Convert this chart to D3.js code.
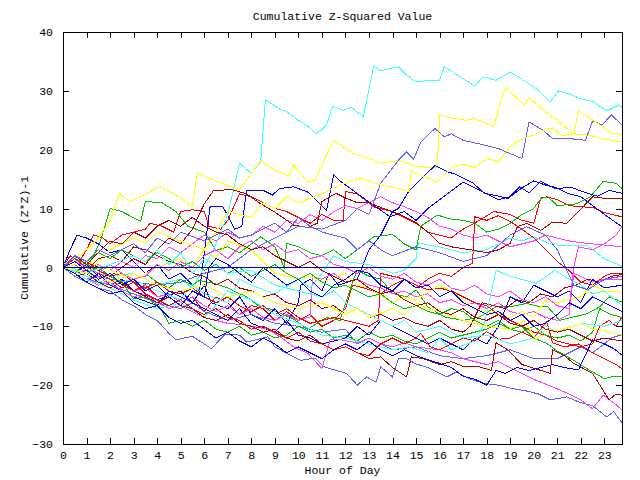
<!DOCTYPE html>
<html><head><meta charset="utf-8">
<script src="https://cdn.jsdelivr.net/npm/d3@7"></script>
<style>
html,body{margin:0;padding:0;background:#fff;}
text{font-family:"Liberation Mono","DejaVu Sans Mono",monospace;font-size:11.5px;fill:#000;}
</style></head>
<body>
<svg id="chart" width="640" height="480"></svg>
<script>
// ---- data (hour, cumulative z^2-1) ----
const xTicks = d3.range(0, 24);
const yTicks = [-30, -20, -10, 0, 10, 20, 30, 40];

const red1 = [[0,0],[0.3,2],[0.7,1],[1,3],[1.3,5.5],[1.7,5],[2,4],[2.5,5.5],[3,6],[3.5,6.5],[3.7,7.5],[4.2,7],[4.7,6],[5,9.5],[5.5,9.8],[6,9.5],[6.2,7],[6.7,6.5],[7,8],[7.5,12.5],[8,12],[8.5,11],[9,10],[9.5,9.5],[10,8.5],[10.5,7.5],[11,9],[11.5,8],[11.9,8],[12,12.9],[12.5,12.5],[13.2,10.3],[14,9.5],[14.5,8.5],[15,7.5],[15.5,6],[16,5.5],[16.5,5],[17,6.5],[17.7,8],[18.3,9.5],[19,9],[19.5,8],[20,7.5],[20.3,11.8],[20.55,12],[21,11.5],[21.5,10.5],[22,10.3],[22.5,10.2],[23,9.3],[23.75,8.6]];
const red2 = [[0,0],[0.5,-1],[1,-0.5],[1.5,-2],[2,-1],[2.5,-3],[3,-4],[3.5,-3],[4,-5],[4.5,-4.5],[5,-6],[5.5,-5],[6,-7.5],[6.5,-5],[7,-6],[7.5,-8],[8,-6.5],[8.5,-7],[9,-9],[9.5,-7.5],[10,-9],[10.5,-8],[11,-10],[11.5,-9],[12,-7],[12.3,-3],[12.8,-3.5],[13.5,-4.5],[14,-3],[14.5,-2],[15,-3.5],[15.5,-2],[16,-1],[16.5,-1.5],[17,0],[17.4,0.7],[17.5,8.6],[18,8],[18.5,8.8],[19,7.8],[19.5,6.5],[20,5],[20.5,3],[21,1],[21.5,-0.5],[22,-2.5],[22.5,-3],[23,-1.5],[23.3,-1],[23.75,-1]];
const red3 = [[0,0],[0.5,2],[1,1],[1.5,-0.5],[2,-1.5],[2.5,-1],[3,-2.5],[3.5,-3.5],[4,-2.5],[4.5,-4],[5,-4.5],[5.5,-3.5],[6,-5],[6.5,-6],[7,-5],[7.5,-6.5],[8,-7.5],[8.5,-6.5],[9,-8],[9.5,-7],[10,-8.5],[10.5,-9.5],[11,-9],[11.5,-8.5],[12,-9],[12.5,-9.5],[13,-10],[13.4,-9],[13.5,-1],[14,-1.5],[14.5,-2],[15,-3],[15.5,-3.8],[16,-3.5],[16.5,-4],[17,-5],[17.5,-6],[18,-6.5],[18.5,-8],[19,-9],[19.5,-10],[20,-11],[20.5,-11.5],[21,-12.5],[21.5,-13],[22,-13.5],[22.5,-13],[22.8,-10],[23.2,-9],[23.5,-10],[23.75,-8.4]];
const red4 = [[0,0],[0.5,1.5],[1,0],[1.5,-1],[2,-2],[2.5,-3.5],[3,-2.5],[3.5,-4.5],[4,-5.5],[4.5,-6.5],[5,-5.5],[5.5,-7],[6,-8],[6.5,-7],[7,-8.5],[7.5,-9],[8,-10.5],[8.5,-10],[9,-11],[9.5,-12],[10,-11],[10.5,-12.5],[11,-13],[11.5,-14],[12,-13.5],[12.5,-14.5],[13,-15],[13.5,-13],[14,-12],[14.5,-13],[15,-12],[15.2,-11.2],[15.6,-13.5],[16,-14],[16.5,-13],[17,-12],[17.5,-12.5],[18,-10.9],[18.5,-12.2],[19,-12],[19.5,-11],[20,-12],[20.55,-9.2],[20.8,-12.8],[21.3,-13.5],[21.9,-13],[22.5,-14.5],[23,-15.5],[23.5,-16.5],[23.75,-17.2]];

const green1 = [[0,0],[0.5,1],[1,0],[1.3,2],[1.6,4.6],[2,10],[2.5,9.5],[3.3,7.8],[3.5,11.2],[4.2,11],[4.8,9.5],[5.3,7],[6,6],[6.5,2.9],[7,3.5],[7.5,2.5],[8,4],[8.4,5.2],[9,3.5],[9.4,0],[9.5,4.1],[10,3.5],[10.5,2.5],[11,2],[11.5,3],[12,1.5],[12.5,3],[13.2,5.2],[14,5.6],[14.5,4],[15,3],[15.2,7],[15.9,8.9],[16.5,8.2],[17,8],[17.5,7.5],[18,6],[18.5,6.5],[19,7.5],[19.5,9],[20,10],[20.3,11.7],[20.6,12],[21,10.5],[21.8,10.8],[22.4,12],[22.95,14.6],[23.5,14.3],[23.75,13.4]];
const green2 = [[0,0],[0.5,1.5],[1,0.5],[1.5,-0.5],[2,0.5],[2.5,-1],[3,-2],[3.5,-1],[4,-2.5],[4.5,-3.5],[5,-2],[5.5,-3],[5.8,-2.2],[6.5,-2.8],[7,-3.5],[7.8,-5],[8.3,-6.5],[8.9,-7.2],[9.8,-8.8],[10.4,-10.5],[11.2,-8.5],[11.77,-9],[12.3,-2.5],[12.5,-0.5],[13,-1.5],[13.5,-2],[14,-4.4],[14.6,-5],[15,-3.8],[15.5,-6.7],[16.2,-8.4],[17,-9],[17.7,-8.4],[18.4,-6.7],[19,-6.7],[19.7,-6.1],[20.3,-6.7],[20.6,-6.7],[21.1,-9],[21.7,-8.4],[22.25,-7.9],[22.8,-6.7],[23.2,-5],[23.75,-5.9]];
const green3 = [[0,0],[0.5,-0.5],[1,-1],[1.5,0],[2,-1.5],[2.5,-2.5],[3,-5.3],[3.5,-5],[4.1,-6.7],[4.5,-9.5],[5,-9],[5.5,-10],[6,-9],[6.5,-10.5],[7,-11],[7.5,-10],[8,-11.5],[8.5,-11],[9,-12],[9.5,-11.5],[10,-10],[10.5,-11],[11,-10.5],[11.5,-12],[12,-11.5],[12.5,-12.5],[13,-11],[13.5,-12],[14,-11.5],[14.5,-12.5],[15,-13],[15.5,-12],[16,-11],[16.5,-12],[17,-11.5],[17.5,-11],[18,-10.5],[18.5,-9.5],[19,-10.5],[19.5,-10],[20,-12],[20.55,-12.9],[21,-14.2],[21.7,-15.8],[22.3,-17.3],[23,-18.9],[23.4,-18.5],[23.75,-18.6]];
const green4 = [[0,0],[0.5,-1],[1,1],[1.5,2.5],[2,1.5],[2.5,3],[3,2],[3.5,1],[4,2.5],[4.5,1.5],[5,0],[5.5,1],[6,-0.5],[6.5,0.5],[7,-1],[7.5,0],[8,-1.5],[8.5,-0.5],[9,0.5],[9.5,-1],[10,-2],[10.5,-1],[11,-2.5],[11.5,-3.5],[12,-3],[12.5,-4],[13,-5],[13.5,-4.5],[14,-6],[14.5,-7],[15,-6.5],[15.5,-7.5],[16,-8],[16.5,-7],[17,-7.5],[17.5,-9],[18,-10],[18.5,-9],[19,-10.5],[19.5,-11],[20,-10],[20.5,-11.5],[21,-12],[21.5,-11.5],[22,-12.5],[22.5,-11],[22.8,-7],[23.3,-8],[23.75,-8.5]];

const blue1 = [[0,0],[0.3,3],[0.6,5.5],[1,5],[1.5,4],[2,2.5],[2.5,3],[3,1],[3.5,-1],[4,0.5],[4.5,-2],[5,-1],[5.5,-3],[5.8,-4],[6.25,10.3],[6.8,10.3],[7.1,8],[7.3,6.5],[7.6,7],[7.8,13.1],[8.5,13.1],[8.9,12.3],[9.2,13.4],[9.8,13.7],[10.4,12.8],[11.2,9.7],[11.5,15.7],[11.77,14.7],[12.9,11.4],[13.9,8.6],[14.5,9.5],[15,8],[15.5,10],[16,11.5],[16.5,13],[17,14.5],[17.5,13.5],[18,12.5],[18.5,11.5],[19,12],[19.5,13.5],[20,14.7],[20.5,14],[21,13.5],[21.5,12.5],[22,12],[22.5,10.5],[23,9],[23.75,6.9]];
const blue2 = [[0,0],[0.5,-1],[1,0.5],[1.5,-1.5],[2,-3],[2.5,-2],[3,-4],[4,-5.5],[5,-4],[5.5,-6],[6,-3],[6.3,-6],[7,-7],[7.5,-5],[8,-8],[8.5,-9],[9,-7],[9.5,-9.5],[10,-6],[10.1,-3],[10.5,-2],[11,-4],[11.3,-1],[11.7,-3],[12.5,-2],[13,3],[13.5,5.5],[14,9.5],[14.25,10],[14.7,13],[15.2,15],[15.8,17.3],[16.3,16.3],[16.7,15.8],[17.4,14.4],[17.9,12.6],[18.4,12.2],[18.9,11.7],[19.4,13.7],[19.8,12.7],[20.3,14.6],[20.9,13.4],[21.6,13.6],[22.2,12.7],[22.7,12.1],[23.2,13.1],[23.75,12.6]];
const blue3 = [[0,0],[0.5,-1.5],[1,-2.5],[1.5,-1],[2,-3],[3,-5],[4,-6.5],[4.5,-4],[5,-5],[6,-7],[7,-9],[7.5,-7],[8,-9.5],[9,-11],[9.5,-9],[10,-11.5],[10.5,-12],[11,-13],[12,-12],[12.5,-10],[13,-11.5],[13.5,-9],[14,-10],[15,-12],[15.5,-13],[16,-12],[17,-14],[17.5,-12],[18,-13],[18.5,-10],[19,-5],[19.5,-6],[20,-3],[20.5,-4],[21,-5],[21.5,-4],[22,-6],[22.5,-2],[23,-3.5],[23.75,-3]];
const blue4 = [[0,0],[0.5,-1],[1,-2.5],[1.5,-3.5],[2,-4.5],[2.5,-4],[3,-6],[3.5,-7],[4,-6.5],[4.5,-8.5],[5,-9.5],[5.5,-9],[6,-10.5],[6.5,-12],[7,-11],[7.5,-12.5],[8,-13.5],[8.5,-12],[9,-13],[9.5,-14.5],[10,-13.5],[10.5,-14.5],[11,-15.5],[11.5,-14],[12,-13],[12.5,-14],[13,-12.5],[13.5,-14],[14,-15],[14.5,-14],[15,-15],[16,-16.3],[16.5,-17],[17,-18.5],[17.5,-19],[18,-20],[18.4,-17.5],[18.8,-18],[19.3,-17],[19.8,-17.5],[20.3,-17],[20.8,-16.5],[21.3,-17],[21.9,-17.4],[22.5,-12.3],[23,-13],[23.4,-13.8],[23.75,-14.9]];
const blue5 = [[0,0],[0.5,1],[1,-0.5],[1.5,-2],[2,-1],[2.5,-3],[3,-2],[3.5,-4],[4,-3],[4.5,-5],[5,-6.5],[5.5,-4],[6,-5],[6.2,0],[6.5,1.5],[7,0.5],[7.5,-1],[8,-2.5],[8.5,0],[9,-1.5],[9.5,-3],[10,-2],[10.5,-4],[11,-5],[11.5,-3],[12,-2],[12.5,-0.5],[13,-1],[13.5,-3],[14,-4],[14.5,-2],[15,-3.5],[15.5,-3],[16,-5],[16.5,-4],[17,-6],[17.5,-7],[18,-8],[18.5,-7.5],[19,-9],[19.5,-8],[20,-10],[20.5,-9.5],[21,-8],[21.5,-6],[22,-7],[22.5,-5],[23,-6],[23.75,-7.5]];

const magenta1 = [[0,0],[0.5,0.5],[1,-1],[1.5,0.5],[2,-0.5],[2.5,1],[3,0],[3.5,2],[4,1.5],[4.5,3.5],[5,2.5],[5.5,4],[6,5.5],[6.5,4.5],[7,6],[7.5,5],[8,5.5],[8.5,7],[9,6],[9.5,8],[10,7.5],[10.5,9],[11,8],[11.5,9.5],[12,10.5],[12.5,10],[13,11],[13.5,12],[14,11],[14.5,10.3],[15,9.5],[15.5,8.5],[16,7],[16.5,6.5],[17,5.5],[17.5,5],[18,5.5],[18.5,4.5],[19,3.5],[19.5,4],[20,4.5],[20.5,5.5],[21,5],[21.5,4.5],[22,4.2],[22.5,4],[23,3.8],[23.75,3.5]];
const magenta2 = [[0,0],[0.5,-1],[1,-2],[1.5,-1.5],[2,-3],[2.5,-2.5],[3,-4],[3.5,-3.5],[4,-5],[4.5,-4.5],[5,-6],[5.5,-5],[6,-6.5],[6.5,-7.5],[7,-6.5],[7.5,-8],[8,-7],[8.5,-8.5],[9,-9],[9.5,-8],[10,-9],[10.5,-8.4],[10.6,-1.6],[11,-2],[11.5,-1],[12,-2.5],[12.5,-2],[13,-3],[13.5,-3.5],[14,-4.5],[14.5,-4],[15,-5],[15.5,-4.5],[16,-6],[16.5,-5.5],[17,-6.5],[17.5,-6],[18,-7],[18.5,-6],[19,-7.5],[19.5,-8],[20,-7.5],[20.5,-8.5],[21,-9],[21.5,-8],[21.7,-1],[22,-1.5],[22.5,-2.5],[23,-2],[23.75,-2.1]];
const magenta3 = [[0,0],[0.5,-1],[1,-2],[1.5,-3],[2,-2.5],[2.5,-4],[3,-5],[3.5,-4.5],[4,-6],[4.5,-7],[5,-6.5],[5.5,-7.5],[6,-8.5],[6.4,-8.9],[7,-9.5],[7.8,-9.8],[8.7,-10.5],[9.3,-12],[9.8,-13.5],[10.4,-14.6],[11,-17.2],[11.35,-12.3],[11.8,-12.3],[12.5,-12.8],[13,-12],[13.5,-13],[14,-13.5],[14.5,-12.8],[15,-13.5],[16,-14],[16.5,-14.5],[17,-15.5],[17.5,-16],[18,-16.5],[18.5,-16],[19,-17],[19.5,-18],[20,-19],[20.8,-20.3],[21.5,-21.5],[22,-22.5],[22.5,-24],[22.95,-21.7],[23.4,-23],[23.75,-24.2]];
const magenta4 = [[0,0],[0.5,1],[1,0],[1.5,-1],[2,0.5],[2.5,-1],[3,-2],[3.5,-1.5],[4,0.5],[4.5,-0.5],[5,1],[5.5,0],[6,2],[6.5,3],[7,1.5],[7.5,3.5],[8,4.5],[8.5,3],[9,4],[9.5,2.5],[10,3],[10.5,1.5],[11,2],[11.5,0.5],[12,0],[12.5,-1],[13,0],[13.5,-1.5],[14,-2],[14.5,-1],[15,-2.5],[15.5,-3],[16,-2],[16.5,-3.5],[17,-4],[17.5,-3],[18,-4.5],[18.5,-5],[19,-4],[19.5,-5.5],[20,-6],[20.5,-5],[21,-6.5],[21.5,-7],[21.7,0],[21.9,3.5],[22.5,3],[23,4],[23.5,5.5],[23.75,7]];

const cyan1 = [[0,0],[0.5,1],[1,-0.5],[2,-1.5],[3,-1],[4,-3],[5,-2],[5.5,-3.5],[6,0],[6.5,4],[7,9],[7.5,17.7],[8,16],[8.4,18],[8.6,28.5],[9.2,26.9],[9.5,26.5],[10,25],[10.4,24],[10.75,22.7],[11,23.4],[11.2,24.2],[11.45,27.4],[11.9,26.7],[12.25,27.2],[12.76,25.6],[13.2,34.2],[13.5,33.4],[13.9,33.8],[14.25,34.1],[14.6,32.7],[15,31.5],[15.5,31.8],[16,31.8],[16.2,34.1],[16.8,32.6],[17.5,30.8],[17.85,32.4],[18.4,31.8],[19,33.2],[19.5,32],[20.1,30.4],[20.7,28.1],[21.05,30],[21.5,29.5],[21.96,28.7],[22.5,28.2],[23.1,26.6],[23.6,27.6],[23.75,27.2]];
const cyan2 = [[0,0],[1,-1.5],[2,-3],[3,-2],[4,-4],[5,-5.5],[5.5,-3],[6,-4.5],[7,-6],[7.5,-2],[8,-3],[9,-4.5],[10,-2],[10.5,-3.5],[11,-1],[11.5,2],[12,1],[13,0.5],[14,-1],[14.5,-0.5],[15,1.5],[15.1,4.2],[15.5,3.8],[16,3.5],[17,2.5],[18,3],[19,5],[19.5,4.5],[20,5.2],[20.7,4],[21,3.8],[22.25,3.8],[23,1.5],[23.75,0.2]];
const cyan3 = [[0,0],[1,-2],[2,-3.5],[3,-5.5],[4,-7],[5,-6],[6,-8.5],[6.5,-6.5],[7,-4],[8,-5.5],[9,-8],[10,-9.5],[11,-11.5],[12,-12],[13,-13],[14,-14],[14.7,-13.5],[15.5,-14.5],[16,-12],[16.5,-14],[17.5,-12.5],[17.9,-9.5],[18.4,-0.5],[19,-1.5],[20.1,-2.7],[20.9,-0.5],[21.5,-2],[22,-3],[22.5,-4.5],[23,-4],[23.75,-6.5]];
const cyan4 = [[0,0.5],[1,-1],[2,0.5],[3,2],[3.5,1],[4,3],[4.5,0.5],[5,2.5],[5.5,-1],[6,1.5],[7,-1],[8,-0.5],[9,-3],[10,-4],[11,-5],[11.5,-4],[12,-6],[13,-8],[14,-10],[14.5,-9],[15,-11],[16,-10],[17,-12],[18,-11.5],[19,-13],[20,-12],[20.5,-10],[21,-11],[22,-9.5],[23,-10],[23.75,-9]];

const yellow1 = [[0,0.5],[0.5,1.5],[1,3],[1.5,5],[2,8],[2.4,12.6],[2.8,11.2],[3.3,12],[4.1,13.7],[4.8,12.3],[5.5,10.3],[5.7,16],[6.3,15],[7.5,13.2],[8.4,18.2],[9,16.5],[9.6,15.5],[9.8,17.4],[10.4,14.5],[10.7,14.8],[11.5,21.6],[12.3,19.4],[13,18.5],[13.5,17.7],[14.3,18.2],[15,17.1],[15.9,17],[16,25.9],[16.5,25.4],[17.1,25],[17.5,25.3],[18.3,23.9],[18.6,28.2],[18.8,30.5],[19.6,27.6],[19.8,28.9],[20.5,26.5],[21,25],[21.7,22.7],[22.3,22.5],[23,21.8],[23.75,21.3]];
const yellow2 = [[0,0],[1,-1],[1.5,1],[2,3],[3,5],[3.5,4],[4,6],[5,4.5],[6,3],[6.5,6],[7,9.5],[8,8.5],[8.5,11],[9,10],[9.5,12],[10,11],[11,12.5],[11.77,14],[12.6,15.2],[13.5,14],[14.2,13.5],[14.7,12.9],[14.8,16.5],[15.3,15.5],[15.9,14.5],[16.5,17],[17,17.5],[17.5,17],[18,18.5],[18.5,18],[19,20.5],[19.5,21.9],[20,22.5],[20.55,23.6],[20.8,23.7],[21.2,22.4],[21.7,22.7],[21.9,26.6],[22.4,25.3],[22.9,24],[23.3,22.8],[23.75,22.6]];
const yellow3 = [[0,0],[1,1],[2,-0.5],[3,-2],[4,0],[5,1.5],[5.5,0],[6,3],[6.5,1.5],[7,4.5],[8,3],[8.5,1],[9,-1],[10,-2],[10.5,-1.5],[11,-2.5],[12,-1],[12.5,-3],[13,-3.5],[14,-6],[14.5,-5],[15,-5.5],[16,-3],[16.5,-4],[17,-5.5],[17.5,-7],[18.5,-8],[19,-8.5],[19.5,-7.5],[20,-8.5],[20.5,-5.5],[21,-6],[22,-5],[22.5,-3],[23,-4],[23.75,-4.2]];
const yellow4 = [[0,0],[1,-1],[2,-2.5],[3,-1],[4,-3],[5,-4],[6,-3],[7,-5],[8,-4],[9,-6],[10,-7],[11,-6],[12,-8],[12.5,-7],[13,-8.5],[14,-7],[14.5,-8],[15,-6],[15.5,-7],[16,-7.5],[17,-9],[18,-10],[19,-10.5],[19.6,-9],[20.1,-12.3],[20.5,-10.5],[21,-10.8],[22,-9.5],[22.5,-10.5],[23,-10.8],[23.75,-11.5]];

const darkred1 = [[0,0],[0.5,-1],[1,1],[1.5,0],[2,-1.5],[2.5,0],[3,1.5],[3.5,0.5],[4,3],[4.5,5],[5,4],[5.5,6.5],[6,10.8],[6.4,13.1],[7.2,13.2],[7.8,12.5],[8.4,10.8],[9,9.4],[9.8,7.2],[10.4,6.8],[10.8,7.5],[11,11.2],[11.6,12.6],[12,11.8],[12.5,11],[13,11],[13.5,10.2],[14.3,9],[15,7.6],[15.5,6],[16,4.1],[16.5,3.5],[17.3,3],[18,2.5],[18.5,3],[19,4.1],[19.3,6.9],[19.7,7.5],[20.3,6.3],[20.8,7.7],[21.4,7.5],[21.9,9.5],[22.5,12],[23.1,11.7],[23.75,11.7]];
const darkred2 = [[0,0],[0.5,1],[1,-0.5],[1.5,1.5],[2,2],[2.5,1],[3,3.5],[3.5,3],[4,2],[4.5,1],[5,0.5],[5.5,-1],[6,-1.5],[6.5,-3],[7,-2],[7.5,-3.5],[8,-4],[8.5,-5],[9,-4.5],[9.5,-6],[10,-6.5],[10.5,-5.5],[11,-7],[11.5,-6.5],[12,-8],[12.5,-7],[13,-8.5],[13.5,-8],[14,-9],[14.5,-8.5],[15,-9.5],[15.5,-10],[16,-9],[16.5,-10.5],[17,-11],[17.3,-10],[17.8,-6],[18.3,-6.5],[18.8,-7],[19.3,-5.5],[19.8,-6],[20.3,-4.5],[20.8,-5],[21.3,-3.5],[21.8,-3],[22.3,-2],[22.8,-2.5],[23.3,-1.5],[23.75,-1.2]];
const darkred3 = [[0,0],[0.5,-1.5],[1,-1],[1.5,-2.5],[2,-3.5],[2.5,-2.5],[3,-4],[3.5,-5],[4,-6],[4.5,-5],[5,-6.5],[5.5,-7],[6,-8.5],[6.5,-9],[7,-8],[7.5,-9.5],[8,-10],[8.5,-11],[9,-10.5],[9.5,-12],[10,-12.5],[10.5,-11.5],[11,-13],[11.5,-14],[12,-13.5],[12.5,-14.5],[13,-15.5],[13.5,-15.2],[14,-17],[14.6,-18.6],[14.8,-15.2],[15.3,-15.5],[16,-16.5],[16.5,-16],[17,-16.8],[17.7,-16.9],[18.2,-17.5],[18.4,-12.8],[18.9,-14],[19.5,-16.5],[20.3,-17.5],[20.7,-18],[20.8,-14],[21.3,-15],[21.7,-16.3],[22.5,-18],[23.2,-22.5],[23.5,-21.5],[23.75,-21.7]];
const darkred4 = [[0,0],[0.5,2],[1,0.5],[1.5,2.5],[2,4.5],[2.5,4],[3,6],[3.5,5],[4,7],[4.5,8],[5,7],[5.5,8.5],[6,7],[6.5,6],[7,5.5],[7.5,4],[8,3],[8.5,3.5],[9,2],[9.5,1],[10,0],[10.5,1],[11,-0.5],[11.5,-1.5],[12,-2.5],[12.5,-2],[13,-3.5],[13.5,-4.5],[14,-4],[14.5,-5.5],[15,-6.5],[15.5,-6],[16,-7.5],[16.5,-8],[17,-7],[17.5,-8.5],[18,-9],[18.5,-8],[19,-9.5],[19.5,-10],[20,-9],[20.5,-10.5],[21,-11],[21.5,-10.5],[22,-11.5],[22.5,-12.5],[23,-12],[23.75,-12.5]];

const lightblue1 = [[0,0],[1,-1],[2,-2],[3,-2.5],[4,-3],[5,-2.5],[6,-1],[7,0],[8,3],[9,5],[10,7],[11,6.5],[12,8],[12.5,10],[13,9],[13.5,14.3],[14.25,18.2],[14.6,19.6],[14.9,18.4],[15.2,21.3],[15.8,23.6],[16.2,22.2],[16.5,22.7],[17,21.6],[17.9,20.8],[18.5,20.2],[19.5,18.5],[19.8,24.7],[20.4,23.3],[20.8,21.9],[21.5,21.9],[22.2,21.6],[22.5,24.9],[22.9,24.2],[23.3,25.9],[23.75,24.2]];
const lightblue2 = [[0,0],[0.5,-1],[1,-2],[2,-3],[3,-4.5],[4,-6],[5,-7],[5.5,-6],[6,-7.5],[7,-9],[8,-8],[9,-9.5],[10,-10],[11,-11],[12,-10.5],[12.5,-13],[13,-12],[14,-14],[15,-13.5],[16,-15],[17,-15.5],[18,-15],[19,-14],[20,-15.5],[21,-15.5],[22,-13.5],[22.5,-14.5],[23,-13],[23.3,-12],[23.75,-11.4]];
const lightblue3 = [[0,0],[0.5,-1.5],[1,-2.5],[1.5,-3.5],[2,-4],[2.5,-5.5],[3,-6.5],[3.5,-8],[4,-9],[4.5,-11.2],[4.8,-12.3],[5.5,-11.7],[6.3,-13.8],[6.9,-11.3],[7.5,-11.5],[7.8,-12.7],[8.7,-11.8],[9,-13.5],[9.8,-15.2],[10.1,-15.8],[10.7,-15.4],[11.1,-16.9],[11.6,-17.5],[12.05,-18],[12.5,-20],[12.9,-18.6],[13.3,-19.5],[13.5,-16.9],[14,-18.6],[14.25,-15.5],[14.6,-15.5],[15,-16.4],[15.5,-17],[16.3,-18.6],[16.7,-17.8],[17.3,-19],[17.9,-19.7],[18.5,-20],[19,-20.5],[19.7,-21],[20.2,-21.5],[20.7,-22.5],[21.4,-22],[22,-23],[22.5,-23.5],[23.1,-25.4],[23.4,-24.5],[23.75,-26.4]];
const lightblue4 = [[0,0],[0.5,2],[1,1],[1.5,3],[2,2],[3,4],[3.5,2.5],[4,5],[4.5,4],[5,6],[6,4.5],[7,6.5],[7.5,5],[8,5.5],[9,7.5],[9.5,6],[10,8.5],[10.5,7],[11,6],[12,5],[12.5,3],[13,4.5],[13.5,3],[14,2],[15,3.5],[16,2.5],[17,1],[18,2],[19,5.5],[19.7,6.9],[20.5,5.5],[21,3],[21.7,-3],[22.3,-3.8],[23,-2],[23.75,-1.5]];

const seriesList = [red1, green1, blue1, magenta1, cyan1, yellow1, darkred1, lightblue1,
                    red2, green2, blue2, magenta2, cyan2, yellow2, darkred2, lightblue2,
                    red3, green3, blue3, magenta3, cyan3, yellow3, darkred3, lightblue3,
                    red4, green4, blue4, magenta4, cyan4, yellow4, darkred4, lightblue4, blue5];
// style only
const palette = {red:"#ff0000", green:"#00c000", blue:"#0000ff", magenta:"#ff40ff",
                 cyan:"#40ffff", yellow:"#ffff00", darkred:"#b00000", lightblue:"#6060ff"};
const seriesColors = ["red","green","blue","magenta","cyan","yellow","darkred","lightblue",
                      "red","green","blue","magenta","cyan","yellow","darkred","lightblue",
                      "red","green","blue","magenta","cyan","yellow","darkred","lightblue",
                      "red","green","blue","magenta","cyan","yellow","darkred","lightblue","blue"];

// ---- layout ----
const L = 63, R = 622, T = 32, B = 444;
const svg = d3.select("#chart");
const x = d3.scaleLinear().domain([0, 23.75]).range([L, R]);
const y = d3.scaleLinear().domain([-30, 40]).range([B, T]);

const line = d3.line().x(d => x(d[0])).y(d => y(d[1]));
const g = svg.append("g");
seriesList.forEach((s, i) => {
  g.append("path").datum(s).attr("d", line)
    .attr("fill", "none").attr("stroke", palette[seriesColors[i]])
    .attr("stroke-width", 1).attr("shape-rendering", "crispEdges");
});

// zero line
svg.append("path").datum([[0,0],[23.75,0]]).attr("d", line)
  .attr("stroke", "#0000c8").attr("stroke-width", 1).attr("shape-rendering", "crispEdges");

// axes with inward ticks
const axB = d3.axisBottom(x).tickValues(xTicks).tickSize(-6).tickPadding(7).tickFormat(d3.format("d"));
const axT = d3.axisTop(x).tickValues(xTicks).tickSize(-6).tickFormat("");
const axL = d3.axisLeft(y).tickValues(yTicks).tickSize(-6).tickPadding(10).tickFormat(d3.format("d"));
const axR = d3.axisRight(y).tickValues(yTicks).tickSize(-6).tickFormat("");
function style(sel){
  sel.select(".domain").remove();
  sel.selectAll("line").attr("stroke","#000").attr("shape-rendering","crispEdges");
  sel.selectAll("text").attr("font-family", null).attr("font-size", null);
}
svg.append("g").attr("transform", `translate(0,${B})`).call(axB).call(style);
svg.append("g").attr("transform", `translate(0,${T})`).call(axT).call(style);
svg.append("g").attr("transform", `translate(${L},0)`).call(axL).call(style);
svg.append("g").attr("transform", `translate(${R},0)`).call(axR).call(style);

svg.append("rect").attr("x", L).attr("y", T).attr("width", R - L).attr("height", B - T)
  .attr("fill", "none").attr("stroke", "#000").attr("shape-rendering", "crispEdges");

svg.append("text").attr("x", (L + R) / 2).attr("y", 20).attr("text-anchor", "middle").text("Cumulative Z-Squared Value");
svg.append("text").attr("x", (L + R) / 2).attr("y", 474).attr("text-anchor", "middle").text("Hour of Day");
svg.append("text").attr("transform", `translate(28,${(T + B) / 2}) rotate(-90)`).attr("text-anchor", "middle").text("Cumulative (Z*Z)-1");
</script>
</body></html>
